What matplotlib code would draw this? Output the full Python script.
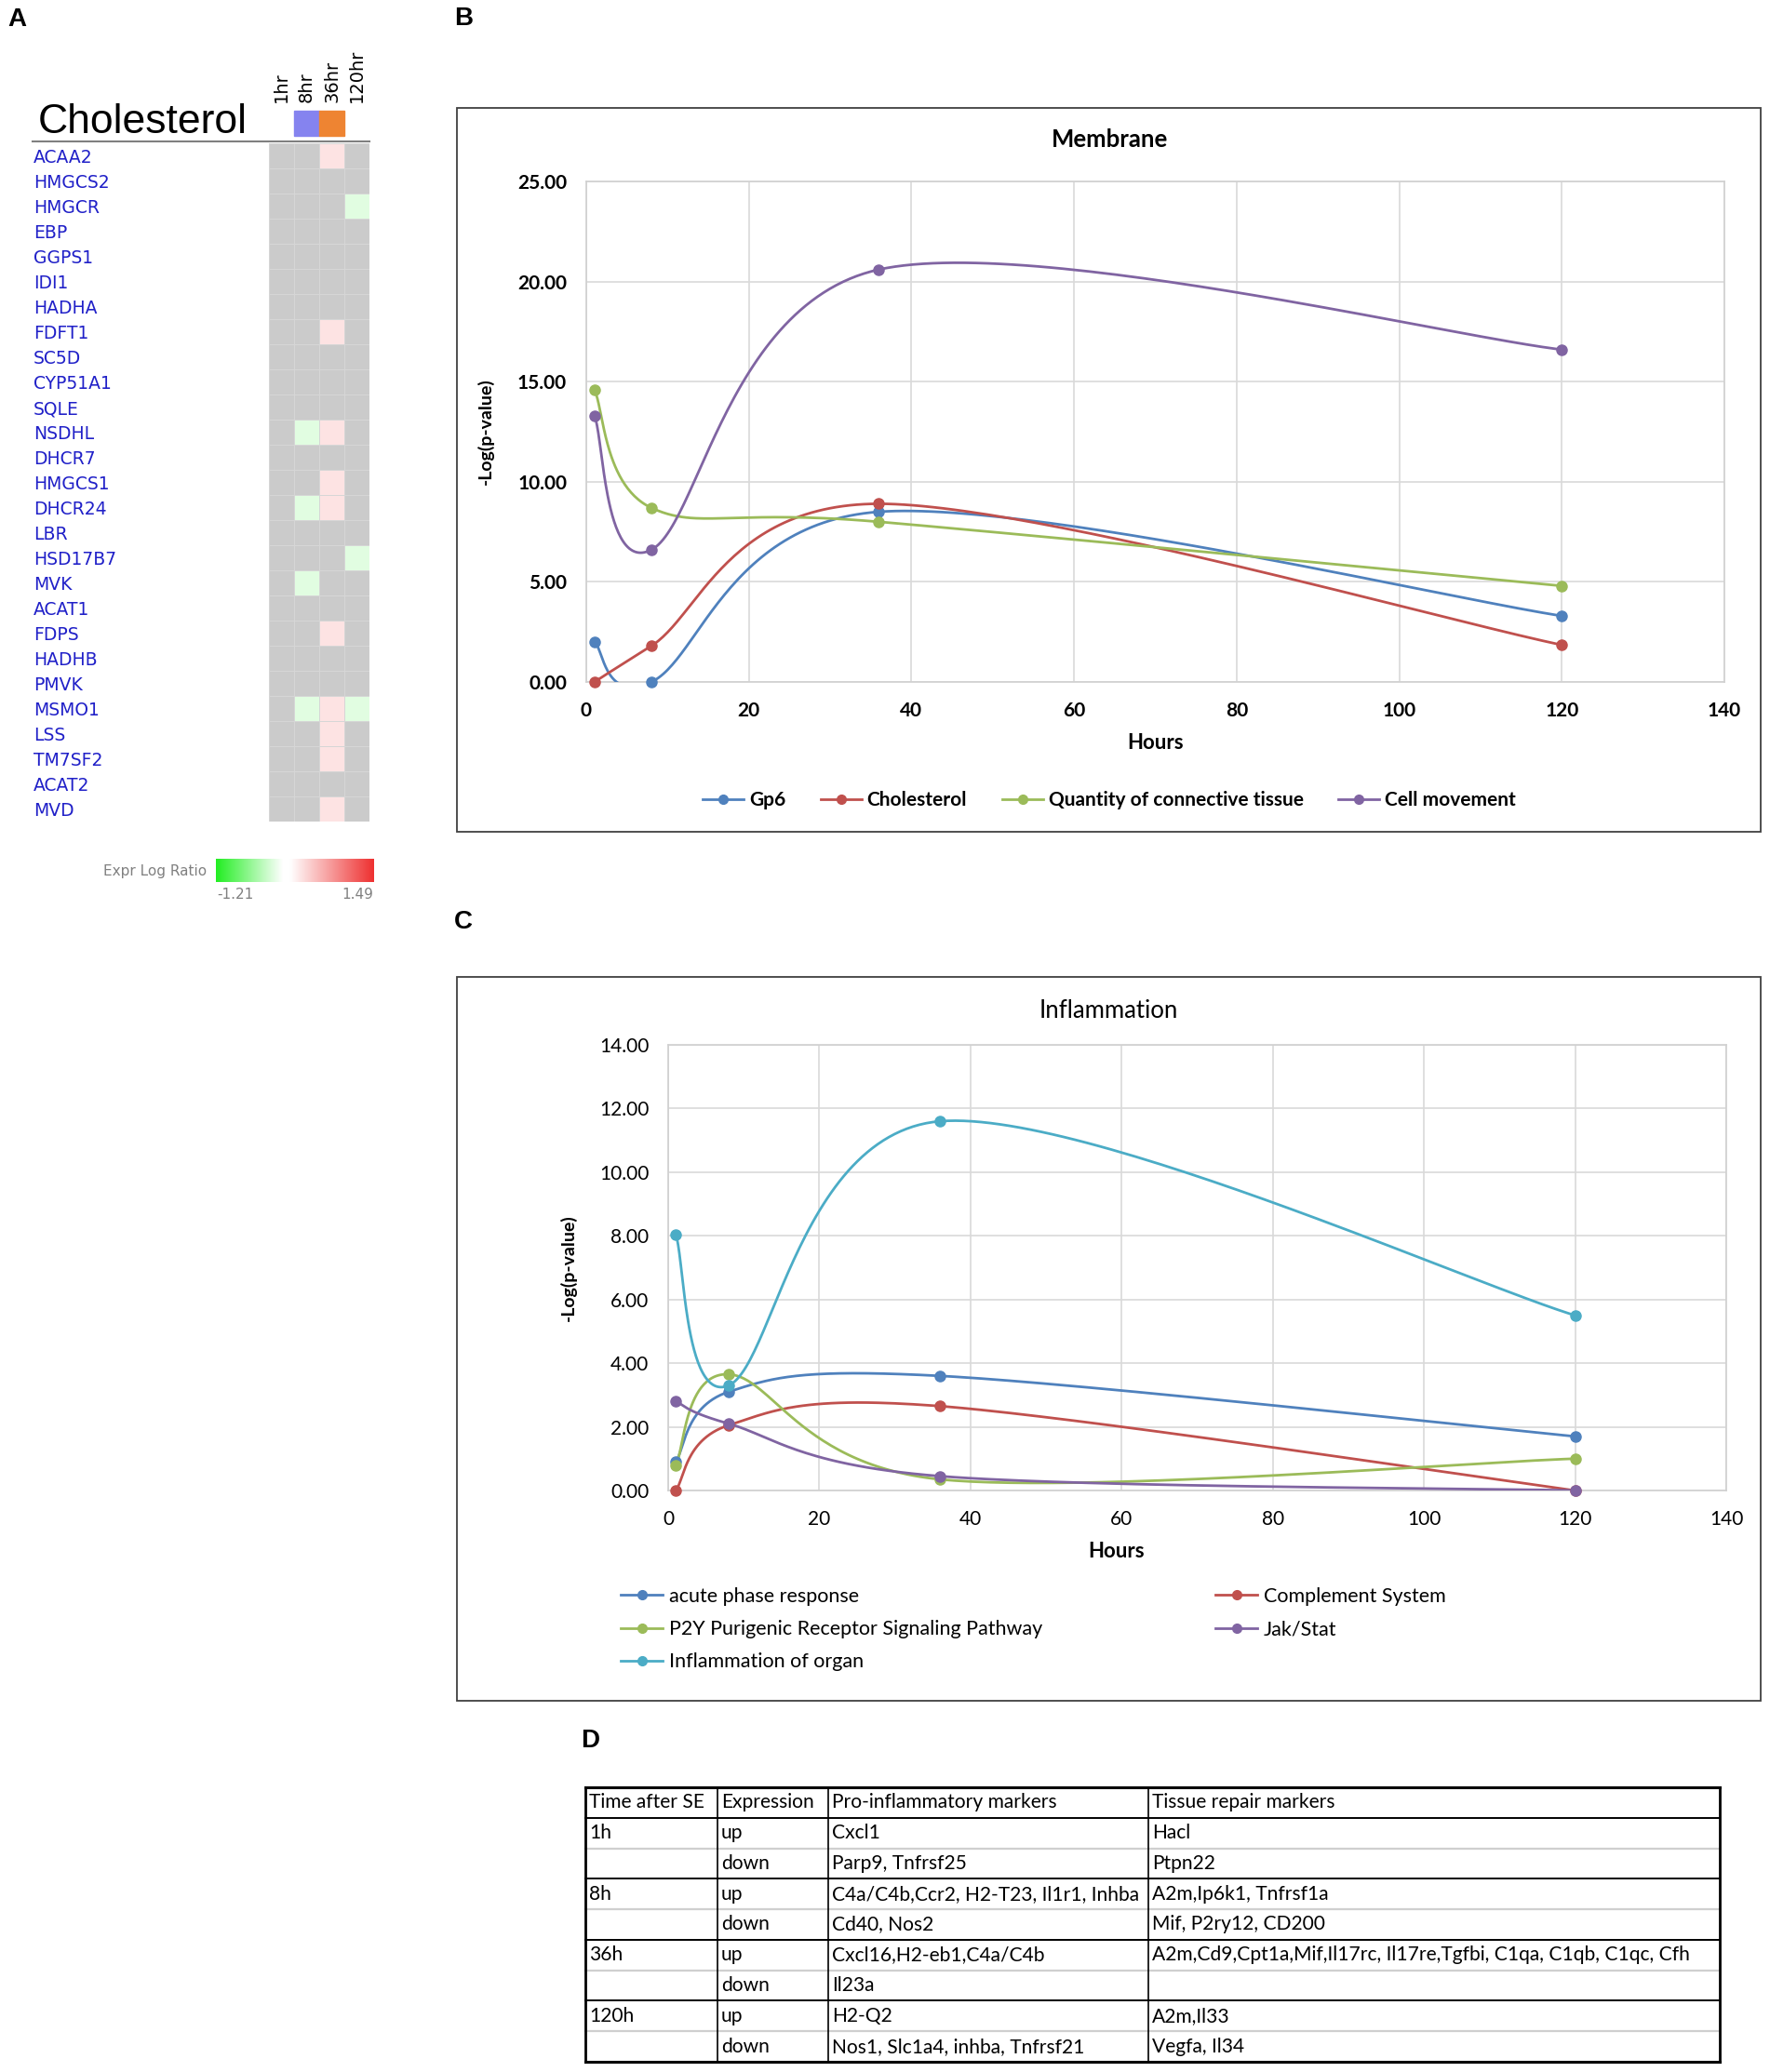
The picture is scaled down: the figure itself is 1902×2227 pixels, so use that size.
import numpy as np
import matplotlib
matplotlib.use('Agg')
import matplotlib.pyplot as plt
from matplotlib.colors import LinearSegmentedColormap
from matplotlib.patches import Rectangle
from matplotlib.lines import Line2D

W, H = 1902, 2227

# ---------------- data ----------------
# panel A heatmap (gray cells = no value)
hm_genes = ['ACAA2', 'HMGCS2', 'HMGCR', 'EBP', 'GGPS1', 'IDI1', 'HADHA', 'FDFT1',
            'SC5D', 'CYP51A1', 'SQLE', 'NSDHL', 'DHCR7', 'HMGCS1', 'DHCR24', 'LBR',
            'HSD17B7', 'MVK', 'ACAT1', 'FDPS', 'HADHB', 'PMVK', 'MSMO1', 'LSS',
            'TM7SF2', 'ACAT2', 'MVD']
hm_times = ['1hr', '8hr', '36hr', '120hr']
n = np.nan
ratio_1hr = [n] * 27
ratio_8hr = [n, n, n, n, n, n, n, n, n, n, n, -0.22, n, n, -0.22, n,
             n, -0.22, n, n, n, n, -0.22, n, n, n, n]
ratio_36hr = [0.25, n, n, n, n, n, n, 0.25, n, n, n, 0.25, n, 0.25, 0.25, n,
              n, n, n, 0.25, n, n, 0.25, 0.25, 0.25, n, 0.25]
ratio_120hr = [n, n, -0.22, n, n, n, n, n, n, n, n, n, n, n, n, n,
               -0.22, n, n, n, n, n, -0.22, n, n, n, n]
ratio_min, ratio_max = -1.21, 1.49

# panel B / C line charts
hours = [1, 8, 36, 120]
gp6 = [2.0, 0.0, 8.5, 3.3]
cholesterol = [0.0, 1.8, 8.9, 1.85]
connective = [14.6, 8.7, 8.0, 4.8]
cell_movement = [13.3, 6.6, 20.6, 16.6]

acute_phase = [0.9, 3.1, 3.6, 1.7]
complement = [0.0, 2.05, 2.65, 0.0]
p2y = [0.8, 3.65, 0.35, 1.0]
jak_stat = [2.8, 2.1, 0.45, 0.0]
inflam_organ = [8.05, 3.3, 11.6, 5.5]

# panel D table
tbl_header = ['Time after SE', 'Expression', 'Pro-inflammatory markers', 'Tissue repair markers']
tbl_times = ['1h', '8h', '36h', '120h']
tbl_expr = ['up', 'down']
pro_inflammatory = ['Cxcl1', 'Parp9, Tnfrsf25', 'C4a/C4b,Ccr2, H2-T23, Il1r1, Inhba',
                    'Cd40, Nos2', 'Cxcl16,H2-eb1,C4a/C4b', 'Il23a', 'H2-Q2',
                    'Nos1, Slc1a4, inhba, Tnfrsf21']
tissue_repair = ['Hacl', 'Ptpn22', 'A2m,Ip6k1, Tnfrsf1a', 'Mif, P2ry12, CD200',
                 'A2m,Cd9,Cpt1a,Mif,Il17rc, Il17re,Tgfbi, C1qa, C1qb, C1qc, Cfh', '',
                 'A2m,Il33', 'Vegfa, Il34']

BLUE, RED, GREEN, PURPLE, CYAN = '#4F81BD', '#C0504D', '#9BBB59', '#8064A2', '#4BACC6'


def fbox(x0, y0, x1, y1):
    return [x0 / W, 1 - y1 / H, (x1 - x0) / W, (y1 - y0) / H]


def fx(x):
    return x / W


def fy(y):
    return 1 - y / H


def excel_smooth(xs, ys, npts=60):
    # bezier through the points, like Excel's "smoothed line"
    p = np.column_stack([xs, ys]).astype(float)
    out = [p[0]]
    t = np.linspace(0, 1, npts)[1:, None]
    for i in range(len(p) - 1):
        p0 = p[max(i - 1, 0)]
        p1 = p[i]
        p2 = p[i + 1]
        p3 = p[min(i + 2, len(p) - 1)]
        c1 = p1 + (p2 - p0) / 6
        c2 = p2 - (p3 - p1) / 6
        seg = (1 - t) ** 3 * p1 + 3 * (1 - t) ** 2 * t * c1 + 3 * (1 - t) * t ** 2 * c2 + t ** 3 * p2
        out.extend(seg)
    out = np.array(out)
    return out[:, 0], out[:, 1]


fig = plt.figure(figsize=(W / 100, H / 100), dpi=100)

# panel letters
for lab, (x, y) in zip('ABCD', [(18, 21), (498, 20), (498, 991), (634, 1871)]):
    fig.text(fx(x), fy(y), lab, fontsize=20, fontweight='bold', family='Liberation Sans',
             ha='center', va='center')

# ---------------- A: heatmap ----------------
cmap = LinearSegmentedColormap.from_list(
    'expr', [(0, '#22ee22'), (0.422, 'white'), (0.47, 'white'), (1, '#ee3030')])
cmap.set_bad('#cbcbcb')
ratios = np.array([ratio_1hr, ratio_8hr, ratio_36hr, ratio_120hr]).T

axA = fig.add_axes(fbox(289, 154, 397, 883))
axA.pcolormesh(np.ma.masked_invalid(ratios), cmap=cmap, vmin=ratio_min, vmax=ratio_max,
               edgecolors='#d6d6d6', linewidth=0.6)
axA.set_xlim(0, len(hm_times))
axA.set_ylim(len(hm_genes), 0)
axA.set_yticks(np.arange(len(hm_genes)) + 0.5)
axA.set_yticklabels(hm_genes, fontsize=13.5, color='#2020c8', family='DejaVu Sans')
axA.tick_params(axis='y', length=0, pad=(289 - 36) * 0.72)
for lbl in axA.get_yticklabels():
    lbl.set_horizontalalignment('left')
axA.xaxis.tick_top()
axA.set_xticks(np.arange(len(hm_times)) + 0.5)
axA.set_xticklabels(hm_times, rotation=90, fontsize=14, family='DejaVu Sans')
axA.tick_params(axis='x', length=0, pad=44 * 0.72)
for s in axA.spines.values():
    s.set_visible(False)
# time group colour boxes above 8hr and 36hr
for col, c in [(1, '#8583ef'), (2, '#ee8432')]:
    axA.add_patch(Rectangle((col, -1.3), 1, 1.0, color=c, clip_on=False))

fig.text(fx(41), fy(143), 'Cholesterol', fontsize=32, family='Liberation Sans',
         ha='left', va='baseline')
fig.add_artist(Line2D([fx(35), fx(397)], [fy(152), fy(152)], color='#808080', lw=1.5))

cax = fig.add_axes(fbox(232, 923, 401, 948))
cax.imshow(np.linspace(ratio_min, ratio_max, 256)[None, :], aspect='auto', cmap=cmap,
           vmin=ratio_min, vmax=ratio_max)
cax.axis('off')
fig.text(fx(222), fy(937), 'Expr Log Ratio', fontsize=11, color='#808080',
         family='DejaVu Sans', ha='right', va='center')
fig.text(fx(253), fy(962), '%.2f' % ratio_min, fontsize=11, color='#808080',
         family='DejaVu Sans', ha='center', va='center')
fig.text(fx(401), fy(962), '%.2f' % ratio_max, fontsize=11, color='#808080',
         family='DejaVu Sans', ha='right', va='center')


# ---------------- B / C line charts ----------------
def line_panel(box, frame, series, ymax, ystep, weight):
    ax = fig.add_axes(fbox(*box))
    fig.add_artist(Rectangle((fx(frame[0]), fy(frame[3])), (frame[2] - frame[0]) / W,
                             (frame[3] - frame[1]) / H, transform=fig.transFigure,
                             fill=False, ec='#404040', lw=1.3))
    handles = []
    for vals, c, name in series:
        sx, sy = excel_smooth(hours, vals)
        ax.plot(sx, sy, color=c, lw=2.0, zorder=3)
        ax.plot(hours, vals, 'o', color=c, ms=8, zorder=4, clip_on=False)
        handles.append(Line2D([], [], color=c, lw=2.0, marker='o', ms=7, label=name))
    ax.set_xlim(0, 140)
    ax.set_ylim(0, ymax)
    ax.set_xticks(np.arange(0, 141, 20))
    ax.set_yticks(np.arange(0, ymax + 0.01, ystep))
    ax.set_yticklabels(['%.2f' % v for v in np.arange(0, ymax + 0.01, ystep)])
    ax.grid(color='#d9d9d9', lw=1.2)
    ax.set_axisbelow(True)
    for s in ax.spines.values():
        s.set_color('#d0d0d0')
        s.set_linewidth(1.2)
    ax.tick_params(length=0, labelsize=15, pad=15)
    for lbl in ax.get_xticklabels() + ax.get_yticklabels():
        lbl.set_family('Lato')
        lbl.set_fontweight(weight)
    ax.set_ylabel('-Log(p-value)', fontsize=14, fontweight='bold', family='Lato')
    ax.set_xlabel('Hours', fontsize=16, fontweight='bold', family='Lato')
    ax.xaxis.label.set_va('center')
    return ax, handles


axB, hB = line_panel((630, 195, 1853, 733), (491, 116, 1892, 894),
                     [(gp6, BLUE, 'Gp6'), (cholesterol, RED, 'Cholesterol'),
                      (connective, GREEN, 'Quantity of connective tissue'),
                      (cell_movement, PURPLE, 'Cell movement')], 25, 5, 'bold')
axB.yaxis.set_label_coords((531 - 630) / 1223, 0.5)
axB.xaxis.set_label_coords(0.5, -(798 - 733) / 538)
fig.text(fx(1192), fy(150), 'Membrane', fontsize=18.5, fontweight='bold', family='Lato',
         ha='center', va='center')
axB.legend(handles=hB, loc='center', bbox_to_anchor=(fx(1192), fy(860)),
           bbox_transform=fig.transFigure, ncol=4, frameon=False, handlelength=2.1,
           handletextpad=0.3, columnspacing=1.8, borderpad=0,
           prop={'family': 'Lato', 'weight': 'bold', 'size': 15})

axC, hC = line_panel((718, 1123, 1855, 1602), (491, 1050, 1892, 1828),
                     [(acute_phase, BLUE, 'acute phase response'),
                      (complement, RED, 'Complement System'),
                      (p2y, GREEN, 'P2Y Purigenic Receptor Signaling Pathway'),
                      (jak_stat, PURPLE, 'Jak/Stat'),
                      (inflam_organ, CYAN, 'Inflammation of organ')], 14, 2, 'normal')
axC.yaxis.set_label_coords((620 - 718) / 1137, 0.5)
axC.xaxis.set_label_coords((1200 - 718) / 1137, -(1668 - 1602) / 479)
fig.text(fx(1191), fy(1086), 'Inflammation', fontsize=18.5, family='Lato',
         ha='center', va='center')
legprops = {'family': 'Lato', 'size': 15.5}
leg1 = axC.legend(handles=[hC[0], hC[2], hC[4]], loc='upper left',
                  bbox_to_anchor=(fx(667), fy(1706)), bbox_transform=fig.transFigure,
                  frameon=False, handlelength=2.1, handletextpad=0.3, borderpad=0,
                  borderaxespad=0, labelspacing=0.7, prop=legprops)
axC.add_artist(leg1)
axC.legend(handles=[hC[1], hC[3]], loc='upper left',
           bbox_to_anchor=(fx(1306), fy(1706)), bbox_transform=fig.transFigure,
           frameon=False, handlelength=2.1, handletextpad=0.3, borderpad=0,
           borderaxespad=0, labelspacing=0.7, prop=legprops)

# ---------------- D: table ----------------
col_x = [0, 142, 261, 605, 1219]
tax = fig.add_axes(fbox(629, 1921, 1848, 2216))
nrows = 1 + len(pro_inflammatory)
tax.set_xlim(0, col_x[-1])
tax.set_ylim(nrows, 0)
tax.axis('off')
tfont = dict(fontsize=15.1, family='Lato', va='center', ha='left')
for j, h in enumerate(tbl_header):
    tax.text(col_x[j] + 4, 0.5, h, **tfont)
for i in range(len(pro_inflammatory)):
    r = i + 1.5
    if i % 2 == 0:
        tax.text(col_x[0] + 4, r, tbl_times[i // 2], **tfont)
    tax.text(col_x[1] + 4, r, tbl_expr[i % 2], **tfont)
    tax.text(col_x[2] + 4, r, pro_inflammatory[i], **tfont)
    tax.text(col_x[3] + 4, r, tissue_repair[i], **tfont)
for k in range(2, nrows, 2):
    tax.plot([0, col_x[-1]], [k, k], color='#cfcfcf', lw=1.6, clip_on=False)
for k in [1, 3, 5, 7]:
    tax.plot([0, col_x[-1]], [k, k], color='black', lw=1.4, clip_on=False)
for k in [0, nrows]:
    tax.plot([0, col_x[-1]], [k, k], color='black', lw=2.2, clip_on=False)
for j, xv in enumerate(col_x):
    tax.plot([xv, xv], [0, nrows], color='black', lw=2.0 if j in (0, len(col_x) - 1) else 1.2,
             clip_on=False)

fig.savefig('out.png', dpi=100)
